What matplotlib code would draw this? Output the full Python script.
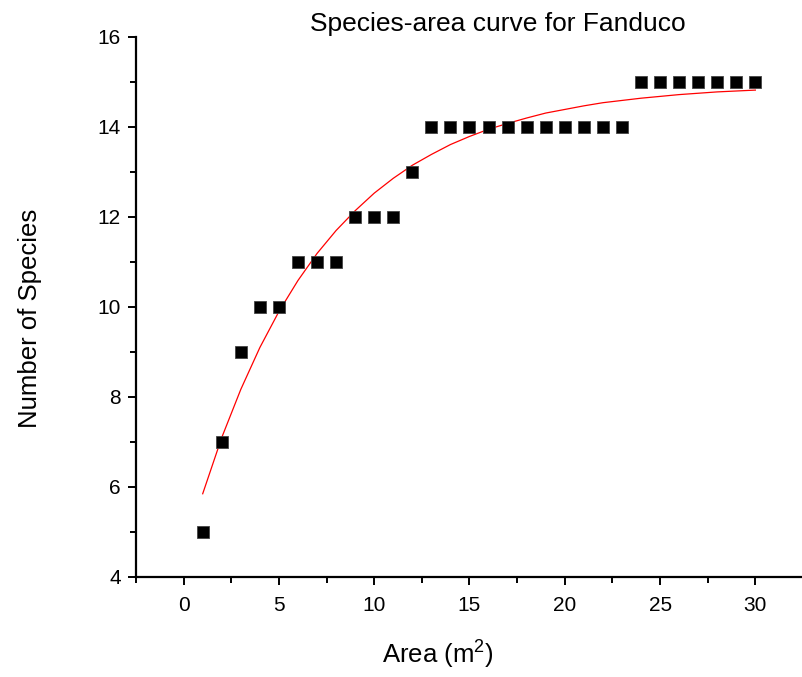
import numpy as np
import matplotlib
matplotlib.use("Agg")
import matplotlib.pyplot as plt
from matplotlib.ticker import MultipleLocator

plt.rcParams['font.family'] = ['Liberation Sans', 'DejaVu Sans']
plt.rcParams['mathtext.fontset'] = 'custom'
plt.rcParams['mathtext.rm'] = 'Liberation Sans'
plt.rcParams['mathtext.it'] = 'Liberation Sans'
plt.rcParams['mathtext.default'] = 'regular'

# observed species counts
area = [1, 2, 3, 4, 5, 6, 7, 8, 9, 10, 11, 12, 13, 14, 15,
        16, 17, 18, 19, 20, 21, 22, 23, 24, 25, 26, 27, 28, 29, 30]
species = [5, 7, 9, 10, 10, 11, 11, 11, 12, 12, 12, 13, 14, 14, 14,
           14, 14, 14, 14, 14, 14, 14, 14, 15, 15, 15, 15, 15, 15, 15]

# fitted curve
fit_y = [5.85, 7.10, 8.17, 9.10, 9.90, 10.59, 11.19, 11.70, 12.14, 12.53,
         12.86, 13.15, 13.39, 13.61, 13.79, 13.95, 14.08, 14.20, 14.31, 14.39,
         14.47, 14.54, 14.59, 14.64, 14.68, 14.72, 14.75, 14.78, 14.80, 14.82]

W, H = 803, 677
fig = plt.figure(figsize=(W/100, H/100), dpi=100)
ax = fig.add_axes([136/W, 100/H, (W-136)/W, 540/H])

ax.plot(area, fit_y, color='red', lw=0.9, zorder=2)
ax.plot(area, species, ls='none', marker='s', ms=8.3, mfc='black', mec='#444444',
        mew=0.6, zorder=3)

ax.set_xlim(-2.5, 32.5)
ax.set_ylim(4, 16)
ax.xaxis.set_major_locator(MultipleLocator(5))
ax.xaxis.set_minor_locator(MultipleLocator(2.5))
ax.yaxis.set_major_locator(MultipleLocator(2))
ax.yaxis.set_minor_locator(MultipleLocator(1))

for s in ['top', 'right']:
    ax.spines[s].set_visible(False)
for s in ['left', 'bottom']:
    ax.spines[s].set_linewidth(1.6)
    ax.spines[s].set_clip_on(False)

ax.tick_params(which='major', direction='out', length=6, width=1.4, labelsize=15)
ax.tick_params(which='minor', direction='out', length=4, width=1.4)
ax.tick_params(axis='x', which='major', pad=8)
ax.tick_params(axis='y', which='major', pad=5)

fig.text(498/W, 1-24/H, 'Species-area curve for Fanduco', ha='center', va='center', fontsize=19)
fig.text(438/W, 1-655/H, 'Area (m$^{2}$)', ha='center', va='center', fontsize=18.5)
fig.text(30/W, 1-318/H, 'Number of Species', ha='center', va='center', rotation=90, fontsize=18.5)

fig.savefig('out.png', dpi=100)
